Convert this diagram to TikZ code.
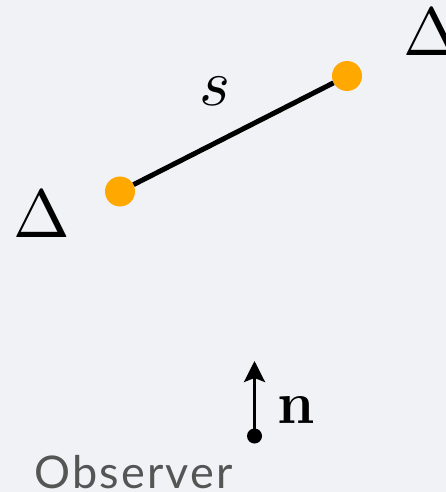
\documentclass[tikz,border=0pt]{standalone}
\usepackage{fontspec}
\usepackage{unicode-math}
\setmathfont{Latin Modern Math}
\usepackage{tikz}
\usetikzlibrary{positioning,arrows.meta}
\newfontfamily\obsfont[LetterSpace=5]{Lato}
\definecolor{bgcol}{RGB}{241,242,246}
\definecolor{dotcol}{RGB}{255,168,0}
\definecolor{obscol}{RGB}{85,85,85}

\begin{document}
\begin{tikzpicture}[x=1pt, y=-1pt,
  endpt/.style={circle, fill=dotcol, inner sep=0pt, minimum size=30pt},
  obsdot/.style={circle, fill=black, inner sep=0pt, minimum size=15pt},
  bigsym/.style={inner sep=0pt, anchor=base, font=\fontsize{68}{68}\selectfont},
  seg/.style={line width=5pt, black},
  ar/.style={-{Stealth[length=21pt, width=21pt, inset=4pt]}, line width=3pt, black}
]
\fill[bgcol] (0,0) rectangle (446,492);
\useasboundingbox (0,0) rectangle (446,492);

% the two ends of the segment
\node[endpt] (ea) at (120,191.5) {};
\node[endpt] (eb) at (347,76) {};
\draw[seg] (ea) -- (eb);
\node[bigsym, font=\fontsize{66}{66}\selectfont] (slbl) at (215,106) {$s$};

\node[bigsym] (da) at (41.5,237) {$\Delta$};
\node[bigsym] (db) at (431.5,56) {$\Delta$};

% observer and its normal
\node[obsdot] (obs) at (254.5,436) {};
\coordinate (tip) at (254.5,361);
\draw[ar] (obs.center) -- (tip);
\node[bigsym, anchor=base west, font=\fontsize{60}{60}\selectfont] (nlbl) at (277,423) {$\mathbf{n}$};
\node[inner sep=0pt, anchor=base west, text=obscol, font=\obsfont\fontsize{45}{45}\selectfont] (olbl) at (34,488) {Observer};
\end{tikzpicture}
\end{document}
